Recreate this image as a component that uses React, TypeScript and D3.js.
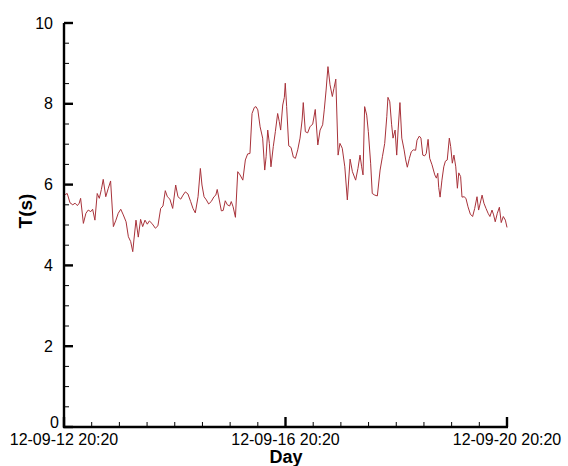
import React from "react";
import * as d3 from "d3";

const startTime = Date.UTC(2012, 8, 12, 20, 20);
const hours: number[] = [
  0, 1.4, 2.6, 3.8, 4.8, 5.8, 6.6, 7.2, 8.4, 9.5, 10.5, 11.6, 12.4, 13.4, 14.4, 15.3, 16.2, 17.0, 18.1, 19.2,
  20.2, 21.4, 22.5, 23.5, 24.6, 25.7, 26.9, 27.9, 28.9, 29.8, 30.3, 31.2, 32.2, 33.2, 34.1, 35.1, 36.1, 37.0,
  38.1, 39.6, 40.7, 41.9, 42.9, 43.9, 44.8, 45.9, 47.1, 48.4, 49.4, 50.6, 51.6, 52.6, 53.7, 54.9, 55.9, 56.9,
  58.1, 59.1, 59.8, 60.7, 61.7, 62.7, 63.8, 65.0, 65.8, 66.4, 67.3, 68.2, 69.0, 69.9, 70.8, 71.8, 72.5, 73.3,
  74.3, 75.3, 76.3, 77.5, 78.6, 79.6, 80.6, 81.5, 82.5, 83.2, 84.0, 85.0, 86.1, 87.0, 87.6, 88.3, 89.0, 89.7,
  90.7, 91.6, 92.6, 93.3, 93.9, 94.8, 95.5, 95.9, 96.5, 97.4, 98.4, 99.4, 100.3, 101.3, 102.3, 103.2, 103.7,
  104.6, 105.6, 106.6, 107.8, 108.9, 110.0, 111.0, 112.1, 112.8, 113.6, 114.4, 115.3, 116.3, 117.0, 117.8,
  118.8, 119.6, 120.6, 121.7, 122.8, 124.0, 125.0, 126.4, 127.4, 128.3, 129.0, 129.6, 130.3, 131.2, 131.9,
  132.9, 133.6, 134.7, 135.8, 137.0, 138.0, 139.0, 139.9, 140.4, 141.2, 142.0, 142.6, 143.5, 144.2, 144.8,
  145.6, 146.4, 147.4, 148.1, 148.8, 149.7, 150.5, 151.4, 152.4, 153.0, 154.0, 154.7, 155.5, 156.3, 157.0,
  157.8, 158.5, 159.5, 160.7, 161.4, 162.0, 162.4, 163.0, 163.8, 164.6, 165.3, 166.1, 167.0, 167.6, 168.3,
  169.0, 169.8, 170.5, 171.1, 171.9, 172.5, 173.4, 174.2, 175.1, 176.1, 177.1, 178.0, 179.0, 179.7, 180.4,
  181.2, 182.0, 182.9, 183.8, 184.6, 185.5, 186.2, 186.9, 187.8, 188.7, 189.5, 190.4, 191.3, 192.0,
];
const periods: number[] = [
  5.74, 5.78, 5.55, 5.50, 5.54, 5.48, 5.54, 5.66, 5.04, 5.29, 5.37, 5.33, 5.39, 5.12, 5.78, 5.66, 5.88, 6.13, 5.70, 5.91,
  6.09, 4.96, 5.12, 5.29, 5.39, 5.25, 5.08, 4.71, 4.59, 4.34, 4.63, 5.12, 4.70, 5.14, 4.96, 5.12, 5.02, 5.10,
  5.04, 4.92, 4.98, 5.41, 5.47, 5.85, 5.70, 5.64, 5.41, 5.99, 5.70, 5.64, 5.74, 5.82, 5.77, 5.58, 5.41, 5.30,
  5.70, 6.40, 5.99, 5.70, 5.62, 5.52, 5.58, 5.70, 5.74, 5.88, 5.62, 5.35, 5.36, 5.60, 5.50, 5.47, 5.58, 5.45,
  5.19, 6.32, 6.24, 6.11, 6.61, 6.76, 6.77, 7.76, 7.91, 7.93, 7.85, 7.43, 7.15, 6.36, 6.69, 7.35, 7.02, 6.44,
  6.94, 7.31, 7.76, 7.56, 7.35, 7.97, 8.16, 8.51, 7.93, 6.96, 6.92, 6.68, 6.65, 6.86, 7.15, 7.60, 8.03,
  7.31, 7.28, 7.43, 7.50, 7.86, 6.98, 7.35, 7.48, 7.85, 8.34, 8.92, 8.47, 8.18, 8.38, 8.61,
  6.73, 7.02, 6.90, 6.44, 5.62, 6.63, 6.32, 6.11, 6.40, 6.73, 6.44, 6.24, 7.93, 7.72, 7.31,
  6.53, 5.78, 5.74, 5.72, 6.36, 6.69, 7.02, 7.68, 8.16, 8.05, 7.48, 7.15, 7.35, 6.73, 7.35,
  8.03, 7.15, 6.86, 6.61, 6.43, 6.65, 6.81, 6.86, 6.85, 7.10, 7.20, 7.15, 6.73, 6.71, 6.77,
  7.12, 6.65, 6.49, 6.24, 6.16, 6.28, 5.93, 5.69, 6.11, 6.44, 6.58, 6.61, 7.15, 6.94, 6.53,
  6.73, 6.44, 5.91, 6.29, 6.20, 5.69, 5.70, 5.66, 5.45, 5.27, 5.21, 5.41, 5.70, 5.37, 5.54,
  5.74, 5.54, 5.41, 5.29, 5.21, 5.37, 5.25, 5.08, 5.29, 5.44, 5.06, 5.21, 5.12, 4.94,
];
const yTicks: number[] = [0, 2, 4, 6, 8, 10];
const xTickHours: number[] = [0, 96, 192];
const yLabel = "T(s)";
const xLabel = "Day";

const W = 568;
const H = 466;
const FONT = "Arial, 'Liberation Sans', Helvetica, sans-serif";

export default function App() {
  const t0 = new Date(startTime);
  const t1 = new Date(startTime + 192 * 3600e3);
  const x = d3.scaleUtc().domain([t0, t1]).range([64, 507]);
  const y = d3.scaleLinear().domain([0, 10]).range([427, 23]);
  const fmt = d3.utcFormat("%y-%m-%d %H:%M");

  const data = hours.map((h, i) => ({ t: new Date(startTime + h * 3600e3), v: periods[i] }));
  const line = d3
    .line<{ t: Date; v: number }>()
    .x((d) => x(d.t))
    .y((d) => y(d.v));

  const yMinor = d3.range(0, 10.001, 0.5).filter((v) => !yTicks.includes(v));
  const xMinorH = d3.range(0, 192.001, 12).filter((h) => !xTickHours.includes(h));

  return (
    <svg width={W} height={H} style={{ position: "absolute", left: 0, top: 0, background: "#fff" }} fontFamily={FONT}>
      <path d={line(data) || ""} fill="none" stroke="#a8323a" strokeWidth={1} strokeLinejoin="miter" />
      {/* y axis */}
      <line x1={64} x2={64} y1={y(10)} y2={y(0) + 1} stroke="#000" strokeWidth={2.4} />
      {yTicks.map((v) => (
        <g key={"yt" + v}>
          <line x1={64} x2={73} y1={y(v)} y2={y(v)} stroke="#000" strokeWidth={2.4} />
          <text
            x={v === 0 ? 59 : 53}
            y={v === 0 ? y(v) + 1 : y(v) + 5.5}
            textAnchor="end"
            fontSize={16}
            fill="#000"
          >
            {v}
          </text>
        </g>
      ))}
      {yMinor.map((v) => (
        <line key={"ym" + v} x1={64} x2={69} y1={y(v)} y2={y(v)} stroke="#000" strokeWidth={1} />
      ))}
      {/* x axis */}
      <line x1={63} x2={508} y1={427} y2={427} stroke="#000" strokeWidth={2.4} />
      {xTickHours.map((h) => {
        const d = new Date(startTime + h * 3600e3);
        return (
          <g key={"xt" + h}>
            <line x1={x(d)} x2={x(d)} y1={427} y2={417} stroke="#000" strokeWidth={2.4} />
            <text x={x(d)} y={445} textAnchor="middle" fontSize={16} fill="#000">
              {fmt(d)}
            </text>
          </g>
        );
      })}
      {xMinorH.map((h) => {
        const d = new Date(startTime + h * 3600e3);
        return <line key={"xm" + h} x1={x(d)} x2={x(d)} y1={427} y2={422} stroke="#000" strokeWidth={1} />;
      })}
      <text x={286} y={462.5} textAnchor="middle" fontSize={18} fontWeight="bold" fill="#000">
        {xLabel}
      </text>
      <text
        transform={`translate(32, ${211}) rotate(-90)`}
        textAnchor="middle"
        fontSize={19}
        fontWeight="bold"
        fill="#000"
      >
        {yLabel}
      </text>
    </svg>
  );
}
